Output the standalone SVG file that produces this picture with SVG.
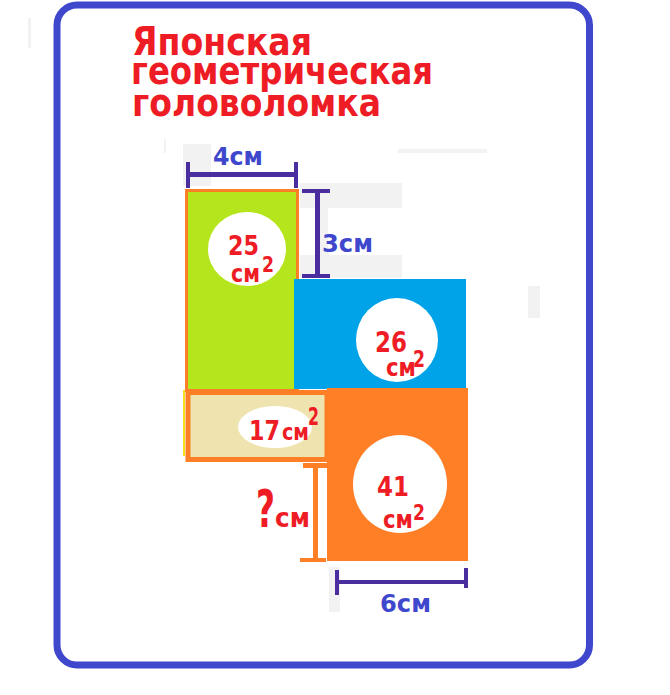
<svg xmlns="http://www.w3.org/2000/svg" width="670" height="695" viewBox="0 0 670 695">
<style>
.title{font-family:"DejaVu Sans","Verdana",sans-serif;font-weight:bold;fill:#ee1c25;font-size:39px}
.num{font-family:"DejaVu Sans",sans-serif;font-weight:bold;fill:#ee1c25}
.dim{font-family:"DejaVu Sans",sans-serif;font-weight:bold;fill:#3f48cc;font-size:25px}
.pl{fill:#4a2d9f}
.ol{fill:#ff7f27}
.smudge{fill:#f2f2f2}
</style>
<rect x="0" y="0" width="670" height="695" fill="#ffffff"/>
<g id="artifacts">
<rect class="smudge" x="28" y="18" width="3" height="30"/>
<rect class="smudge" x="164" y="139" width="2" height="14"/>
<rect class="smudge" x="398" y="149" width="89" height="4"/>
<rect class="smudge" x="528" y="286" width="12" height="32"/>
<rect class="smudge" x="183" y="144" width="28" height="42"/>
<rect class="smudge" x="300" y="183" width="102" height="25"/>
<rect class="smudge" x="300" y="255" width="102" height="23"/>
<rect class="smudge" x="320" y="208" width="8" height="47"/>
<rect class="smudge" x="329" y="567" width="11" height="45"/>
<rect x="183" y="390" width="2" height="66" fill="#f5e11c"/>
</g>
<g id="frame">
<rect x="57" y="5" width="532.5" height="660" rx="20" ry="20" fill="none" stroke="#3f48cc" stroke-width="7"/>
</g>
<g id="title">
<text class="title" x="132" y="55" textLength="180" lengthAdjust="spacingAndGlyphs">Японская</text>
<text class="title" x="131" y="84" textLength="302" lengthAdjust="spacingAndGlyphs">геометрическая</text>
<text class="title" x="132" y="116" textLength="249" lengthAdjust="spacingAndGlyphs">головоломка</text>
</g>
<g id="green-rect">
<rect x="186.5" y="190.5" width="111" height="200" fill="#b5e61d" stroke="#ff7f27" stroke-width="3"/>
<ellipse cx="247" cy="249" rx="39" ry="37" fill="#ffffff"/>
<text class="num" x="228" y="255" font-size="26" textLength="31" lengthAdjust="spacingAndGlyphs">25</text>
<text class="num" x="262" y="272" font-size="22" textLength="12" lengthAdjust="spacingAndGlyphs">2</text>
<text class="num" x="231" y="282" font-size="25" textLength="29" lengthAdjust="spacingAndGlyphs">см</text>
</g>
<g id="blue-rect">
<rect x="294" y="279" width="172" height="110" fill="#00a2e8"/>
<ellipse cx="397" cy="340" rx="41" ry="42" fill="#ffffff"/>
<text class="num" x="375" y="352" font-size="28" textLength="32" lengthAdjust="spacingAndGlyphs">26</text>
<text class="num" x="413" y="367" font-size="23" textLength="12" lengthAdjust="spacingAndGlyphs">2</text>
<text class="num" x="386" y="376" font-size="25" textLength="30" lengthAdjust="spacingAndGlyphs">см</text>
</g>
<g id="orange-rect">
<rect x="327" y="388" width="141" height="173" fill="#ff7f27"/>
<ellipse cx="400" cy="484" rx="47" ry="49" fill="#ffffff"/>
<text class="num" x="377" y="496" font-size="27" textLength="32" lengthAdjust="spacingAndGlyphs">41</text>
<text class="num" x="413" y="520" font-size="22" textLength="12" lengthAdjust="spacingAndGlyphs">2</text>
<text class="num" x="383" y="528" font-size="25" textLength="30" lengthAdjust="spacingAndGlyphs">см</text>
</g>
<g id="beige-rect">
<rect x="188" y="392.5" width="139" height="67" fill="#efe4b0" stroke="#ff7f27" stroke-width="5"/>
<ellipse cx="275" cy="427" rx="37" ry="21" fill="#ffffff"/>
<text class="num" x="249" y="440" font-size="27" textLength="31" lengthAdjust="spacingAndGlyphs">17</text>
<text class="num" x="282" y="440" font-size="23" textLength="27" lengthAdjust="spacingAndGlyphs">см</text>
<text class="num" x="308" y="425" font-size="24" textLength="11" lengthAdjust="spacingAndGlyphs">2</text>
</g>
<g id="connectors">
<rect class="pl" x="186" y="162" width="4" height="26"/>
<rect class="pl" x="294" y="162" width="4" height="26"/>
<rect class="pl" x="188" y="172" width="108" height="5"/>
<rect class="pl" x="315" y="191" width="5" height="86"/>
<rect class="pl" x="302" y="189" width="28" height="4"/>
<rect class="pl" x="302" y="274" width="28" height="4"/>
<rect class="ol" x="313" y="463" width="5" height="97"/>
<rect class="ol" x="303" y="463" width="24" height="5"/>
<rect class="ol" x="300" y="558" width="26" height="4"/>
<rect class="pl" x="335" y="570" width="4" height="25"/>
<rect class="pl" x="337" y="580" width="131" height="4"/>
<rect class="pl" x="464" y="568" width="4" height="20"/>
</g>
<g id="labels">
<text class="dim" x="213" y="165" textLength="50" lengthAdjust="spacingAndGlyphs">4см</text>
<text class="dim" x="322" y="252" textLength="51" lengthAdjust="spacingAndGlyphs">3см</text>
<text class="dim" x="380" y="612" textLength="51" lengthAdjust="spacingAndGlyphs">6см</text>
<text class="num" x="256" y="527" font-size="52" textLength="19" lengthAdjust="spacingAndGlyphs">?</text>
<text class="num" x="275" y="527" font-size="27" textLength="35" lengthAdjust="spacingAndGlyphs">см</text>
</g>
</svg>
